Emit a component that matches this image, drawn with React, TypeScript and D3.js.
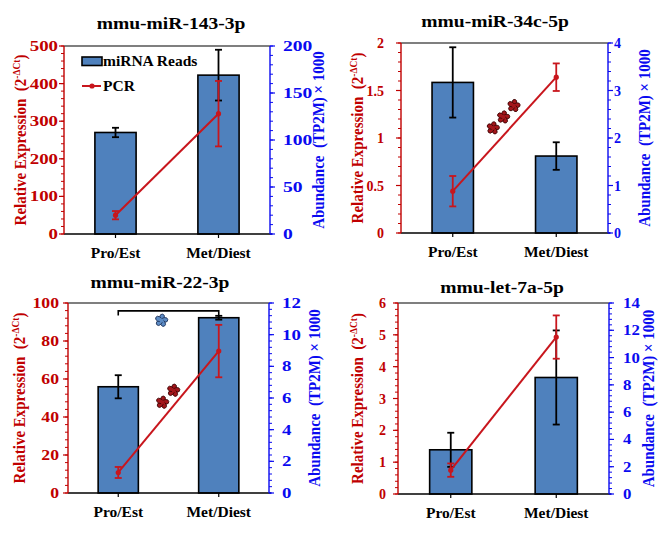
import React from "react";
import * as d3 from "d3";

// ---- data ----
const categories = ["Pro/Est", "Met/Diest"];
const titles = ["mmu-miR-143-3p", "mmu-miR-34c-5p", "mmu-miR-22-3p", "mmu-let-7a-5p"];

// miRNA reads (right axis, TP2M x 1000)
const readsMean = [[108, 169], [3.17, 1.62], [6.71, 11.07], [3.24, 8.54]];
const readsErr = [[5, 27], [0.74, 0.29], [0.73, 0.12], [1.25, 3.45]];

// PCR relative expression (left axis)
const pcrMean = [[50, 320], [0.44, 1.64], [10.8, 74.7], [0.75, 4.93]];
const pcrErr = [[11, 87], [0.16, 0.145], [2.9, 13.8], [0.21, 0.68]];

const leftMax = [500, 2, 100, 6];
const leftStep = [100, 0.5, 20, 1];
const rightMax = [200, 4, 12, 14];
const rightStep = [50, 1, 2, 2];

// significance marks: [t between categories, value on axis]
const redStars = [[], [[0.39, 1.105], [0.49, 1.22], [0.59, 1.34]], [[0.44, 47.7], [0.55, 54]], []];
const blueStars = [[], [], [[0.43, 10.9]], []];
const brackets = [null, null, 11.5, null];

// ---- layout ----
const frames = [
  { left: 64, right: 270, top: 46, bottom: 234, tSize: 14.5, lSx: 1.3, rSx: 1.35, lGap: 6, rGap: 13, lTitle: 26, rTitle: 324, titleX: 171, titleY: 29 },
  { left: 401, right: 608, top: 43, bottom: 233, tSize: 14, lSx: 1, rSx: 1, lGap: 17, rGap: 6, lTitle: 363, rTitle: 650, titleX: 495, titleY: 27 },
  { left: 68, right: 269, top: 303, bottom: 493, tSize: 14.5, lSx: 1.22, rSx: 1.3, lGap: 9, rGap: 13, lTitle: 25, rTitle: 320, titleX: 160, titleY: 288 },
  { left: 398, right: 609, top: 303, bottom: 494, tSize: 14, lSx: 1, rSx: 1.2, lGap: 12, rGap: 14, lTitle: 363, rTitle: 654, titleX: 502, titleY: 293 },
];

const FONT = "'Liberation Serif', 'Times New Roman', serif";
const RED = "#C00000";
const LINE_RED = "#C8161D";
const BLUE = "#0A0AF0";
const BAR = "#4F81BD";

const SText = ({ x, y, sx = 1, rot = 0, anchor = "start", size = 14, fill = "#000", children }: any) => (
  <text
    transform={`translate(${x},${y}) scale(${sx},1)${rot ? ` rotate(${rot})` : ""}`}
    textAnchor={anchor}
    fontSize={size}
    fill={fill}
    fontWeight="bold"
    fontFamily={FONT}
    style={{ whiteSpace: "pre" }}
  >
    {children}
  </text>
);

const Star = ({ x, y, fill, stroke }: any) => (
  <g transform={`translate(${x},${y})`}>
    {d3.range(5).map((i) => (
      <ellipse key={i} cx={0} cy={-3.1} rx={2.4} ry={3.3} transform={`rotate(${i * 72 + 10})`} fill={fill} stroke={stroke} strokeWidth={0.8} />
    ))}
    <circle r={2} fill={fill} />
  </g>
);

const Panel = ({ i }: { i: number }) => {
  const f = frames[i];
  const x = d3.scaleBand().domain(categories).range([f.left, f.right]).paddingInner(0.6).paddingOuter(0.3);
  const bw = x.bandwidth();
  const cx = (c: string) => (x(c) as number) + bw / 2;
  const yL = d3.scaleLinear().domain([0, leftMax[i]]).range([f.bottom, f.top]);
  const yR = d3.scaleLinear().domain([0, rightMax[i]]).range([f.bottom, f.top]);
  const eps = 1e-9;
  const lMinor = d3.range(0, leftMax[i] + eps, leftStep[i] / 5);
  const lMajor = d3.range(0, leftMax[i] + eps, leftStep[i]);
  const rMinor = d3.range(0, rightMax[i] + eps, rightStep[i] / 5);
  const rMajor = d3.range(0, rightMax[i] + eps, rightStep[i]);
  const fmt = (v: number) => String(+v.toFixed(2));
  const tx = (t: number) => cx(categories[0]) + t * (cx(categories[1]) - cx(categories[0]));
  const line = d3
    .line<number>()
    .x((_, j) => cx(categories[j]))
    .y((d) => yL(d));
  const midY = (f.top + f.bottom) / 2;
  const cap = 3.5;

  return (
    <g>
      <SText x={f.titleX} y={f.titleY} sx={1.15} anchor="middle" size={17}>
        {titles[i]}
      </SText>

      {/* top frame */}
      <line x1={f.left} x2={f.right} y1={f.top} y2={f.top} stroke="#000" strokeWidth={1.2} />

      {/* bars */}
      {categories.map((c, j) => (
        <rect key={c} x={x(c)} y={yR(readsMean[i][j])} width={bw} height={f.bottom - yR(readsMean[i][j])} fill={BAR} stroke="#000" strokeWidth={1.6} />
      ))}
      {categories.map((c, j) => {
        const hi = yR(readsMean[i][j] + readsErr[i][j]);
        const lo = yR(readsMean[i][j] - readsErr[i][j]);
        return (
          <g key={c} stroke="#000" strokeWidth={1.8}>
            <line x1={cx(c)} x2={cx(c)} y1={hi} y2={lo} />
            <line x1={cx(c) - cap} x2={cx(c) + cap} y1={hi} y2={hi} />
            <line x1={cx(c) - cap} x2={cx(c) + cap} y1={lo} y2={lo} />
          </g>
        );
      })}

      {/* bracket */}
      {brackets[i] != null && (
        <path
          d={`M${cx(categories[0])},${yR(brackets[i] as number) + 4.5}V${yR(brackets[i] as number)}H${cx(categories[1])}V${yR(brackets[i] as number) + 4.5}`}
          fill="none"
          stroke="#000"
          strokeWidth={1.6}
        />
      )}

      {/* PCR line */}
      <path d={line(pcrMean[i]) as string} fill="none" stroke={LINE_RED} strokeWidth={2} />
      {categories.map((c, j) => {
        const hi = yL(pcrMean[i][j] + pcrErr[i][j]);
        const lo = yL(pcrMean[i][j] - pcrErr[i][j]);
        return (
          <g key={c} stroke={LINE_RED} strokeWidth={1.8}>
            <line x1={cx(c)} x2={cx(c)} y1={hi} y2={lo} />
            <line x1={cx(c) - cap} x2={cx(c) + cap} y1={hi} y2={hi} />
            <line x1={cx(c) - cap} x2={cx(c) + cap} y1={lo} y2={lo} />
            <circle cx={cx(c)} cy={yL(pcrMean[i][j])} r={2.6} fill={LINE_RED} stroke="none" />
          </g>
        );
      })}

      {redStars[i].map(([t, v], k) => (
        <Star key={k} x={tx(t)} y={yL(v)} fill="#A3161B" stroke="#3A0505" />
      ))}
      {blueStars[i].map(([t, v], k) => (
        <Star key={k} x={tx(t)} y={yR(v)} fill="#5C8BC4" stroke="#1C2F55" />
      ))}

      {/* bottom axis */}
      <line x1={f.left} x2={f.right + 2} y1={f.bottom} y2={f.bottom} stroke="#000" strokeWidth={1.4} />
      {categories.map((c) => (
        <g key={c}>
          <line x1={cx(c)} x2={cx(c)} y1={f.bottom} y2={f.bottom + 4} stroke="#000" strokeWidth={1.2} />
          <SText x={cx(c)} y={f.bottom + 24} anchor="middle" size={15.5}>
            {c}
          </SText>
        </g>
      ))}

      {/* left axis */}
      <line x1={f.left} x2={f.left} y1={f.top} y2={f.bottom} stroke={RED} strokeWidth={1.4} />
      {lMinor.map((v, k) => (
        <line key={k} x1={f.left - 3} x2={f.left} y1={yL(v)} y2={yL(v)} stroke={RED} strokeWidth={1} />
      ))}
      {lMajor.map((v, k) => (
        <g key={k}>
          <line x1={f.left - 5} x2={f.left} y1={yL(v)} y2={yL(v)} stroke={RED} strokeWidth={1.2} />
          <SText x={f.left - f.lGap} y={yL(v) + 5} sx={f.lSx} anchor="end" size={f.tSize} fill={RED}>
            {fmt(v)}
          </SText>
        </g>
      ))}

      {/* right axis */}
      <line x1={f.right} x2={f.right} y1={f.top} y2={f.bottom} stroke={BLUE} strokeWidth={1.4} />
      {rMinor.map((v, k) => (
        <line key={k} x1={f.right} x2={f.right + 3} y1={yR(v)} y2={yR(v)} stroke={BLUE} strokeWidth={1} />
      ))}
      {rMajor.map((v, k) => (
        <g key={k}>
          <line x1={f.right} x2={f.right + 5} y1={yR(v)} y2={yR(v)} stroke={BLUE} strokeWidth={1.2} />
          <SText x={f.right + f.rGap} y={yR(v) + 5} sx={f.rSx} anchor="start" size={f.tSize} fill={BLUE}>
            {fmt(v)}
          </SText>
        </g>
      ))}

      {/* axis titles */}
      <SText x={f.lTitle} y={midY} sx={1.15} rot={-90} anchor="middle" size={15} fill={RED}>
        {"Relative Expression  (2"}
        <tspan dy={-5} fontSize={9.5}>
          -ΔCt
        </tspan>
        <tspan dy={5}>)</tspan>
      </SText>
      <SText x={f.rTitle} y={midY} sx={1.15} rot={-90} anchor="middle" size={15} fill={BLUE}>
        {"Abundance  (TP2M) × 1000"}
      </SText>
    </g>
  );
};

const Legend = () => {
  const f = frames[0];
  const lx = f.left + 18;
  return (
    <g>
      <rect x={lx} y={f.top + 11} width={20} height={8.5} fill={BAR} stroke="#000" strokeWidth={1.6} />
      <SText x={lx + 21} y={f.top + 20} size={15.5}>
        miRNA Reads
      </SText>
      <line x1={lx} x2={lx + 19} y1={f.top + 40} y2={f.top + 40} stroke={LINE_RED} strokeWidth={2} />
      <circle cx={lx + 10} cy={f.top + 40} r={2.6} fill={LINE_RED} />
      <SText x={lx + 21} y={f.top + 45} size={15.5}>
        PCR
      </SText>
    </g>
  );
};

export default function App() {
  return (
    <svg width={660} height={545} style={{ position: "absolute", left: 0, top: 0, background: "#fff" }}>
      <rect width={660} height={545} fill="#fff" />
      {frames.map((_, i) => (
        <Panel key={i} i={i} />
      ))}
      <Legend />
    </svg>
  );
}
